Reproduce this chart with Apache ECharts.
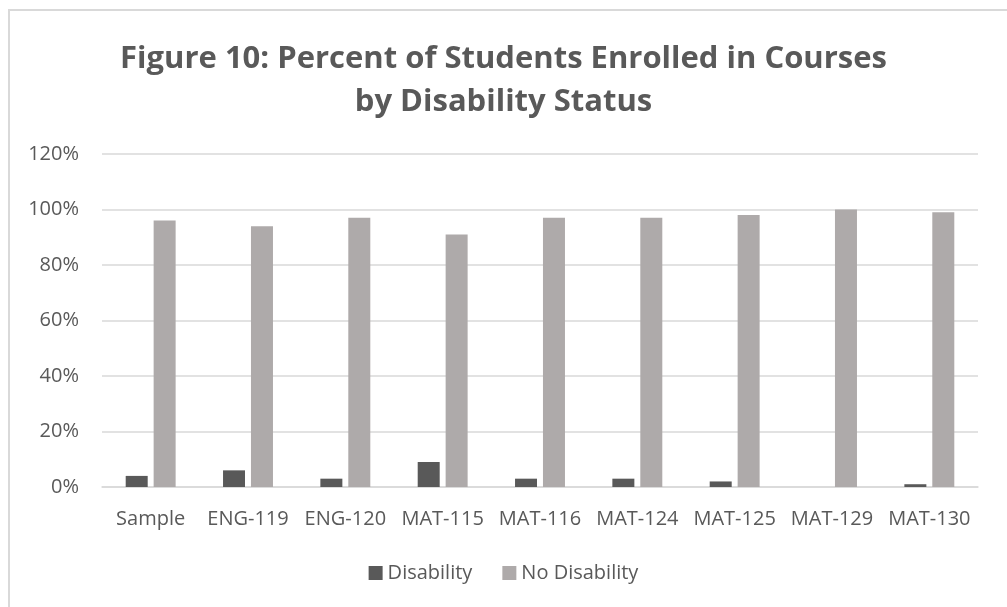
<!DOCTYPE html>
<html><head><meta charset="utf-8">
<script src="https://cdn.jsdelivr.net/npm/echarts@6/dist/echarts.min.js"></script>
<style>
html,body{margin:0;padding:0;background:#fff;}
#frame{position:absolute;left:8px;top:9px;width:1010px;height:610px;border-left:2px solid #D9D9D9;border-top:2px solid #D9D9D9;}
#c{position:absolute;left:0;top:0;width:1007px;height:607px;}
</style></head>
<body>
<div id="frame"></div>
<div id="c"></div>
<script>
const categories = ['Sample','ENG-119','ENG-120','MAT-115','MAT-116','MAT-124','MAT-125','MAT-129','MAT-130'];
const disability = [4, 6, 3, 9, 3, 3, 2, 0, 1];
const noDisability = [96, 94, 97, 91, 97, 97, 98, 100, 99];
const seriesNames = ['Disability', 'No Disability'];
const titleLines = ['Figure 10: Percent of Students Enrolled in Courses', 'by Disability Status'];

const chart = echarts.init(document.getElementById('c'));
const font = "'Open Sans', sans-serif";
chart.setOption({
  animation: false,
  title: {
    text: titleLines.join('\n'),
    left: 'center', top: 33,
    textStyle: {fontFamily: font, fontSize: 31, fontWeight: 'bold', color: '#595959', lineHeight: 43}
  },
  legend: {
    top: 558, left: 'center', itemWidth: 14, itemHeight: 14, itemGap: 30,
    icon: 'rect',
    textStyle: {fontFamily: font, fontSize: 20, color: '#595959'},
    data: seriesNames
  },
  grid: {left: 102, right: 29, top: 154, bottom: 120},
  xAxis: {
    type: 'category', data: categories,
    axisLine: {lineStyle: {color: '#D9D9D9', width: 1.5}},
    axisTick: {show: false},
    axisLabel: {fontFamily: font, fontSize: 20, color: '#595959', margin: 22, interval: 0}
  },
  yAxis: {
    type: 'value', min: 0, max: 120, interval: 20,
    axisLine: {show: false}, axisTick: {show: false},
    splitLine: {lineStyle: {color: '#D9D9D9', width: 1.5}},
    axisLabel: {fontFamily: font, fontSize: 20, color: '#595959', margin: 23, formatter: '{value}%'}
  },
  series: [
    {name: seriesNames[0], type: 'bar', data: disability, barWidth: 22, barGap: '27%',
     itemStyle: {color: '#595959'}},
    {name: seriesNames[1], type: 'bar', data: noDisability, barWidth: 22,
     itemStyle: {color: '#AEAAAA'}}
  ]
});
</script>
</body></html>
